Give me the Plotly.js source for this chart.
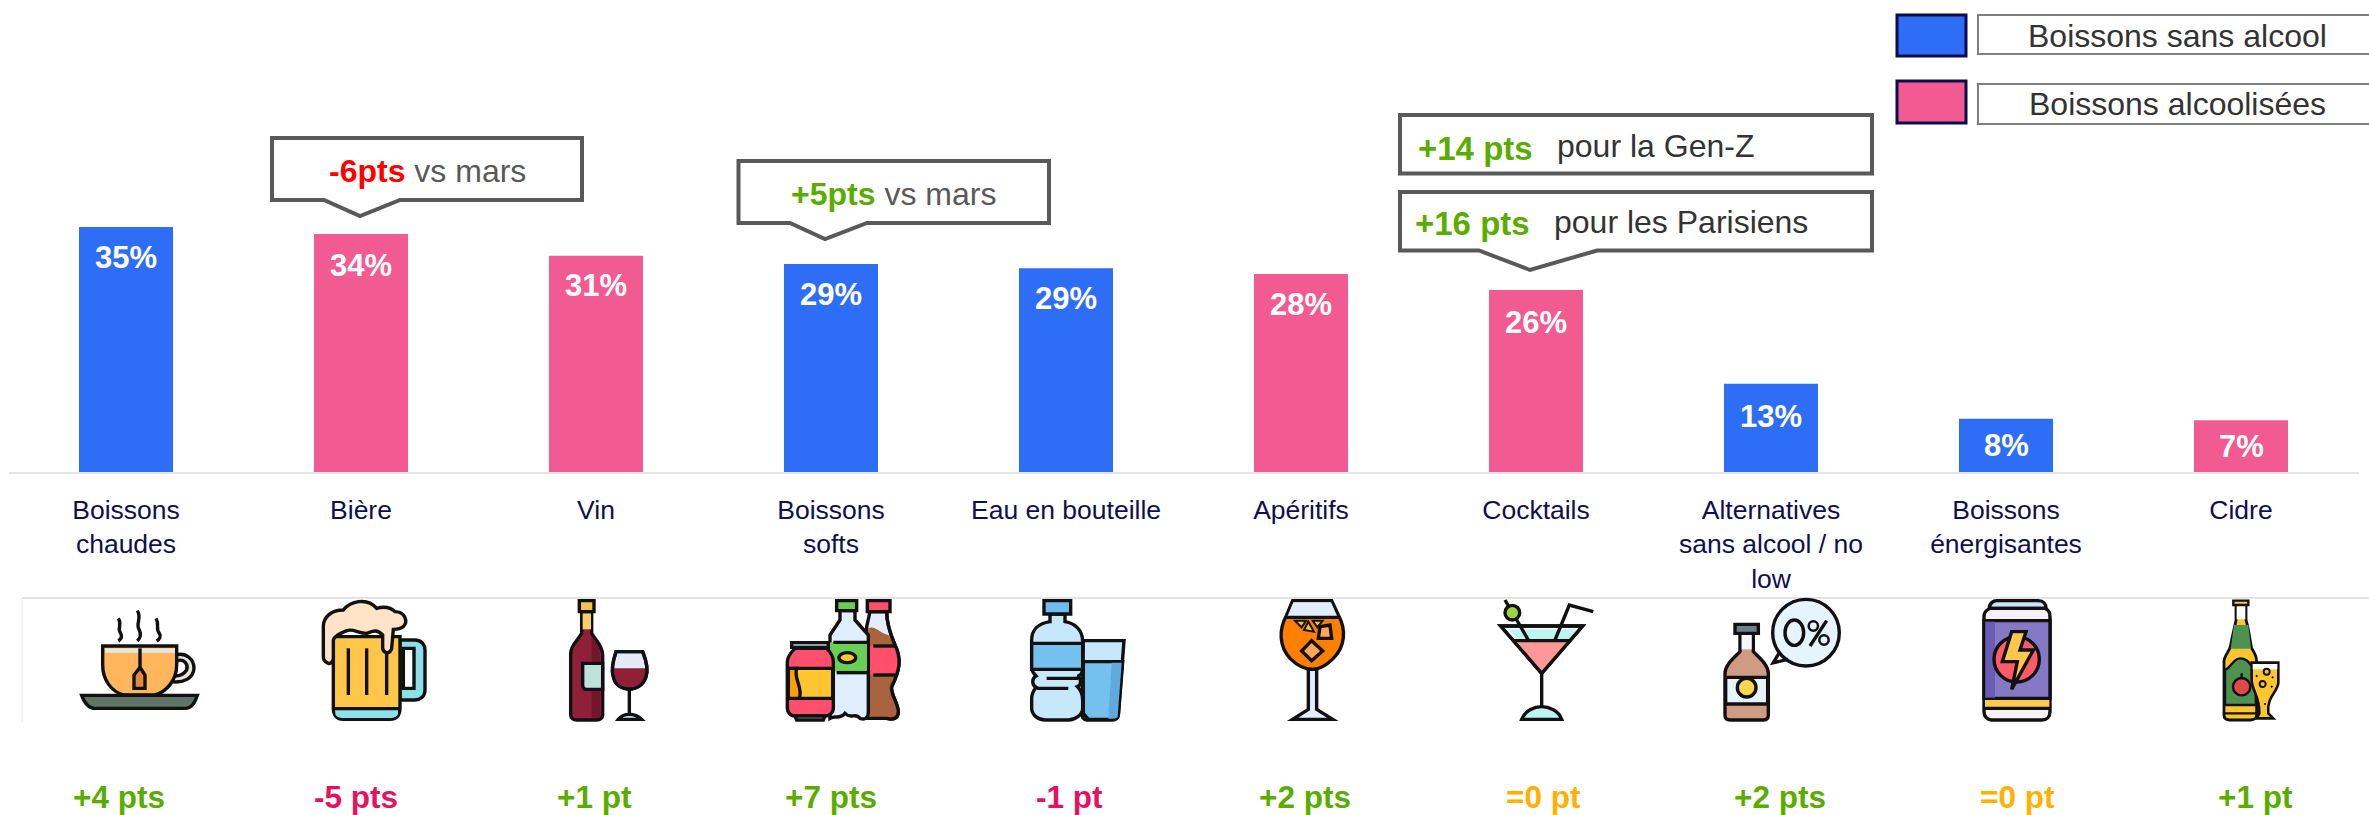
<!DOCTYPE html>
<html><head><meta charset="utf-8">
<script src="https://cdn.plot.ly/plotly-3.0.1.min.js"></script>
<style>html,body{margin:0;padding:0;background:#fff}#c{width:2369px;height:815px}</style></head>
<body><div id="c"></div>
<script>
const categories=["Boissons<br>chaudes","Bière","Vin","Boissons<br>softs","Eau en bouteille","Apéritifs","Cocktails","Alternatives<br>sans alcool / no<br>low","Boissons<br>énergisantes","Cidre"];
const values=[35,34,30.9,29.7,29.1,28.3,26,12.6,7.6,7.4];
const valueLabels=["35%","34%","31%","29%","29%","28%","26%","13%","8%","7%"];
const groups=["sans","alc","alc","sans","sans","alc","alc","sans","sans","alc"];
const deltas=["+4 pts","-5 pts","+1 pt","+7 pts","-1 pt","+2 pts","=0 pt","+2 pts","=0 pt","+1 pt"];
const trends=["up","down","up","up","down","up","flat","up","flat","up"];
const legendNames={sans:"Boissons sans alcool",alc:"Boissons alcoolisées"};

const W=2369,H=815,BASE=472,PXU=7;
const BLUE="#2e6ef7",PINK="#f25a92",NAVY="#0f0f50",GREEN="#5aad00",RED="#e5135f",AMBER="#ffb000",GREY="#595959",INK="#111111";
const trendColor={up:GREEN,down:RED,flat:AMBER};
const FONT="Liberation Sans, Arial, sans-serif";
const px=x=>x/W, py=y=>1-y/H;

const shapes=[],annotations=[];
function path(d,fill,lw,col){shapes.push({type:"path",xref:"paper",yref:"paper",path:d,fillcolor:fill||"rgba(0,0,0,0)",line:{color:col||INK,width:lw===undefined?3.4:lw},layer:"above"});}
// shape written in full-size page pixels
function pagePath(d,fill,lw,col){path(d.replace(/(-?[\d.]+),(-?[\d.]+)/g,(m,a,b)=>px(+a).toFixed(6)+","+py(+b).toFixed(6)),fill,lw,col);}
function note(x,y,text,size,color,anchor){annotations.push({xref:"paper",yref:"paper",x:px(x),y:py(y),text,showarrow:false,xanchor:anchor||"center",yanchor:"middle",font:{family:FONT,size,color},borderpad:0});}
// icon drawing helpers: coordinates are in a 3x local grid from an origin
function icon(ox,oy){
  const tx=x=>ox+x/3, ty=y=>oy+y/3;
  return {
    p(d,fill,lw,col){pagePath(d.replace(/(-?[\d.]+),(-?[\d.]+)/g,(m,a,b)=>tx(+a)+","+ty(+b)),fill,lw,col);},
    c(cx,cy,rx,ry,fill,lw){shapes.push({type:"circle",xref:"paper",yref:"paper",x0:px(tx(cx-rx)),x1:px(tx(cx+rx)),y0:py(ty(cy-ry)),y1:py(ty(cy+ry)),fillcolor:fill||"rgba(0,0,0,0)",line:{color:INK,width:lw===undefined?3.4:lw},layer:"above"});}
  };
}

/* panels */
pagePath("M22,598 L2369,598",null,2,"#e4e4e4");
pagePath("M22,598 L22,722",null,1,"#e8e8e8");

/* callouts */
pagePath("M272,138 L582,138 L582,200 L400,200 L360,216 L324,200 L272,200 Z","#fff",4,GREY);
pagePath("M738.5,161 L1049,161 L1049,223 L867,223 L825,239 L790,223 L738.5,223 Z","#fff",4,GREY);
pagePath("M1400,115 L1872,115 L1872,173.5 L1400,173.5 Z","#fff",4,GREY);
pagePath("M1400,192 L1872,192 L1872,250.5 L1597,250.5 L1530,270 L1479,250.5 L1400,250.5 Z","#fff",4,GREY);
const bold=(t,c)=>`<b><span style="color:${c}">${t}</span></b>`;
note(427,171,bold("-6pts","#ff0000")+` <span style="color:${GREY}">vs mars</span>`,32,GREY);
note(893,194,bold("+5pts",GREEN)+` <span style="color:${GREY}">vs mars</span>`,32,GREY);
note(1417,148,bold("+14 pts",GREEN),33,GREEN,"left");
note(1556,146,"pour la Gen-Z",32,"#333333","left");
note(1414,224,bold("+16 pts",GREEN),33,GREEN,"left");
note(1553,222,"pour les Parisiens",32,"#333333","left");

/* legend */
[[14,57,BLUE,"sans"],[80,124,PINK,"alc"]].forEach((r,i)=>{
  const y0=r[0],y1=r[1];
  pagePath(`M1897,${y0+1} L1966,${y0+1} L1966,${y1-1} L1897,${y1-1} Z`,r[2],3,"#0b0b50");
  const b0=i?84:15,b1=i?124:54;
  pagePath(`M1978,${b0} L2372,${b0} L2372,${b1} L1978,${b1} Z`,"#fff",2,"#7f7f7f");
  note(2177,(b0+b1)/2+(i?0:2),legendNames[r[3]],32,"#333333");
});

/* value labels: pixel offset under each bar top */
const labelDrop=[30,31,30,30,30,31,32,33,27,26];
valueLabels.forEach((t,i)=>{
  annotations.push({xref:"x",yref:"y",x:categories[i],y:values[i],text:"<b>"+t+"</b>",showarrow:false,yanchor:"middle",xanchor:"center",yshift:-labelDrop[i],font:{family:FONT,size:31,color:"#ffffff"}});
});
/* delta row */
const deltaX=[119,356,594,831,1069,1305,1543,1780,2018,2255];
deltas.forEach((t,i)=>note(deltaX[i],797,"<b>"+t+"</b>",31.5,trendColor[trends[i]]));

/* ICONS */
let k;
k=icon(60,590); // tea
k.p("M175,85 C188,105 170,115 182,130 C188,140 182,148 175,153",null);
k.p("M232,62 C247,85 225,100 238,120 C245,135 240,145 232,153",null);
k.p("M288,85 C300,105 285,115 298,130 C305,140 298,148 290,153",null);
k.p("M345,195 C380,185 402,210 402,235 C400,265 370,280 335,275 Z","#e8e6da");
k.p("M350,212 C375,205 385,225 380,240 C370,255 355,258 345,258 Z","#ffffff");
k.p("M128,168 L350,168 L350,225 C350,270 320,305 285,315 L190,315 C155,305 128,270 128,225 Z","#ffb65c");
k.p("M135,175 L345,175 L345,188 L135,188 Z","#e6e6da",0);
k.p("M240,175 L240,232",null);
k.p("M240,232 L255,255 L255,295 L222,295 L222,255 Z","#e58a3f");
k.p("M65,316 L412,316 C405,335 398,355 375,355 L105,355 C85,355 72,335 65,316 Z","#5f7568");
// beer
k.p("M1020,150 L1065,150 C1085,150 1095,165 1095,180 L1095,300 C1095,320 1080,330 1065,330 L1020,330 Z","#8be0ea");
k.p("M1030,175 L1062,175 L1062,295 L1030,295 Z","#ffffff");
k.p("M820,140 L1020,140 L1020,355 C1020,375 1010,388 990,388 L850,388 C830,388 820,375 820,355 Z","#ffc64a");
k.p("M826,360 L1014,360 L1014,372 C1010,382 1000,384 990,384 L850,384 C838,384 828,380 826,372 Z","#8be0ea",0);
k.p("M822,356 L1018,356",null);
k.p("M865,175 L865,315",null);k.p("M920,175 L920,315",null);k.p("M980,190 L980,315",null);
k.p("M805,220 C790,215 790,205 790,195 L790,110 C790,80 815,60 850,60 C870,35 920,20 950,55 C985,45 1000,60 1005,65 C1035,65 1045,95 1030,110 C1020,118 1010,118 1000,118 L995,175 C990,195 970,190 968,175 L968,135 C950,115 935,125 920,130 C895,130 880,115 860,122 C840,130 822,140 820,150 L820,205 C820,215 812,222 805,220 Z","#ffe4c8");

k=icon(540,590); // wine
k.p("M125,65 L155,65 L155,130 C165,150 188,165 188,195 L188,375 C188,385 180,390 170,390 L110,390 C100,390 92,385 92,375 L92,190 C92,165 115,150 125,130 Z","#8f2038");
k.p("M128,70 L153,70 L153,118 L128,118 Z","#f8cf6a",0);
k.p("M155,140 C175,160 180,180 180,200 L180,384 L155,384 Z","#75152c",0);
k.p("M118,32 L162,32 L162,65 L118,65 Z","#f5c14f");
k.p("M128,220 L188,220 L188,298 L140,298 C132,298 128,292 128,285 Z","#bfe2dc");
k.p("M228,185 L308,185 C320,215 325,240 318,260 C310,285 290,297 268,297 C245,297 225,285 220,260 C213,240 218,215 228,185 Z","#e3eaf6");
k.p("M220,235 L318,235 C322,270 300,295 268,295 C240,295 218,270 220,235 Z","#8f2038",0);
k.p("M228,185 L308,185 C320,215 325,240 318,260 C310,285 290,297 268,297 C245,297 225,285 220,260 C213,240 218,215 228,185 Z",null);
k.p("M268,297 L268,370",null);
k.p("M235,388 C250,368 285,368 305,388 Z","#e3eaf6");
// softs
k.p("M990,65 L1040,65 C1040,95 1050,130 1065,165 C1085,205 1080,240 1055,290 C1050,310 1075,340 1075,365 C1075,385 1060,390 1040,385 L980,385 L980,110 Z","#e3eefc");
k.p("M985,115 C1005,105 1020,130 1045,135 L1065,165 C1085,205 1080,240 1055,290 C1050,310 1075,340 1075,365 C1070,385 1050,388 1035,380 C1020,390 1000,390 985,385 Z","#a9633f",0);
k.p("M985,168 L1070,168 C1082,205 1075,235 1065,255 L985,255 Z","#ff4f6c",0);
k.p("M1000,168 L1068,168",null);k.p("M1000,255 L1065,255",null);
k.p("M990,65 L1040,65 C1040,95 1050,130 1065,165 C1085,205 1080,240 1055,290 C1050,310 1075,340 1075,365 C1075,385 1060,390 1040,385 L985,385",null);
k.p("M982,32 L1050,32 L1050,65 L982,65 Z","#ff4f6c");
k.p("M900,62 L945,62 L945,90 L985,135 L985,365 C985,385 975,390 960,385 C945,365 935,390 915,370 C900,390 885,375 870,385 L870,135 L900,90 Z","#e0effe");
k.p("M868,157 L980,157 L980,248 L890,248 L868,220 Z","#6ccf55",0);
k.p("M880,157 L982,157",null);k.p("M890,248 L982,248",null);
k.c(922,203,25,15,"#ffc531");
k.p("M890,32 L950,32 L950,62 L890,62 Z","#6ccf55");
k.p("M755,158 L865,158 L865,172 L755,172 Z","#b9cfe8");
k.p("M765,175 L860,175 C875,190 880,200 880,215 L880,355 C880,370 865,378 855,378 L765,378 C750,378 742,365 742,355 L742,215 C742,200 750,190 765,175 Z","#ff4f6c");
k.p("M745,235 L878,235 L878,325 L745,325 Z","#ffc531");
k.p("M745,235 L770,235 C760,270 790,290 778,325 L745,325 Z","#ff9f00");
k.p("M765,378 L855,378 L850,390 L770,390 Z","#b9cfe8");

k=icon(1000,590); // water
k.p("M250,152 L372,152 L355,375 C354,385 345,390 335,390 L260,390 C250,390 245,380 245,370 Z","#c7e7fb");
k.p("M250,215 L368,215 L355,375 C354,385 345,388 335,388 L265,388 L250,370 Z","#74c1f0");
k.p("M335,218 L365,218 L353,380 C350,385 345,386 325,386 Z","#5fa9de",0);
k.p("M150,72 L195,72 L195,95 C225,100 248,120 248,155 L248,235 C248,250 240,258 232,258 C245,265 245,285 232,290 C242,300 248,310 248,330 L248,355 C248,375 225,390 205,390 L135,390 C115,390 95,375 95,355 L95,325 C95,310 102,300 108,292 C95,285 95,265 108,258 C100,250 95,240 95,235 L95,150 C95,120 115,100 150,95 Z","#c7e7fb");
k.p("M95,160 L248,160 L248,238 L95,238 Z","#74c1f0");
k.p("M140,265 L235,265",null);k.p("M110,295 L205,295",null);
k.p("M132,32 L212,32 L212,72 L132,72 Z","#6fbdee");
// aperitif
k.p("M878,32 L995,32 L1015,75 C1040,120 1035,170 1000,205 C980,225 955,238 938,238 C915,238 890,225 870,205 C838,170 835,120 860,75 Z","#ff7f00");
k.p("M880,37 L993,37 L1012,80 L862,80 Z","#dfefff",0);
k.p("M860,82 L1014,82",null);
k.p("M885,92 L918,92 L905,112 Z","#ffc800",2);
k.p("M912,120 L925,95 L942,125 Z","#ffc800",2);
k.p("M938,92 L968,92 L952,112 Z","#ffc800",2);
k.p("M960,110 L990,105 L995,145 L955,145 Z","#ffa757");
k.p("M935,152 L968,183 L935,212 L905,183 Z","#ffa757");
k.p("M925,238 L950,238 L950,358 L998,388 L878,388 L925,358 Z","#dfefff");

k=icon(1460,590); // cocktail
k.p("M122,108 L368,108 L245,250 Z","#ffffff");
k.p("M172,155 L325,155 L245,250 Z","#ff9797",0);
k.p("M145,118 L352,118 L325,148 L172,148 Z","#bff5ef",0);
k.p("M160,152 L332,152",null);
k.p("M285,150 L328,45 L400,65",null);
k.p("M135,30 L205,150",null);
k.c(157,68,22,22,"#9ed23f");
k.p("M122,108 L368,108 L245,250 Z",null);
k.p("M245,250 L245,350",null);
k.p("M185,388 C195,360 225,350 245,350 C265,350 295,360 305,388 Z","#bff5ef");
// zero alcohol
k.c(1038,128,100,100,"#e6f4ff");
k.p("M958,188 L940,218 L985,208",null);
k.c(1003,128,28,38,null);
k.p("M1100,92 L1050,168",null);
k.c(1060,108,14,14,null,2.5);k.c(1092,150,14,14,null,2.5);
k.p("M840,130 L880,130 L880,185 C900,205 925,225 925,250 L925,375 C925,385 920,390 910,390 L810,390 C800,390 795,385 795,375 L795,250 C795,225 820,205 840,185 Z","#cf9b84");
k.p("M845,135 L875,135 L875,178 L845,178 Z","#f5f8fb",0);
k.p("M797,262 L923,262 L923,342 L797,342 Z","#e6f4ff");
k.c(860,293,28,28,"#ffd64d");
k.p("M825,103 L895,103 L895,130 L825,130 Z","#6e7f8c");

k=icon(1940,590); // energy
k.p("M148,55 C148,40 160,32 170,32 L295,32 C310,32 318,42 318,55 Z","#cfe3f8");
k.p("M150,55 L315,55 C325,60 330,65 330,80 L330,365 C330,380 320,390 305,390 L155,390 C142,390 132,380 132,365 L132,80 C132,65 140,60 150,55 Z","#f4f2f8");
k.p("M132,92 L330,92 L330,325 L132,325 Z","#8578c5");
k.p("M136,95 L165,95 L165,323 L136,323 Z","#6a5cb5",0);
k.p("M135,330 L328,330 L328,352 L135,352 Z","#ffcb4f",0);
k.p("M132,355 L330,355",null);
k.c(230,208,68,68,"#ff5a6a");
k.p("M215,125 L258,125 L240,180 L280,180 L215,298 L232,215 L187,215 Z","#ffc84a");
// cider
k.p("M888,45 L918,45 L918,90 C925,110 930,150 935,175 C945,190 950,200 950,215 L950,375 C950,385 940,390 930,390 L870,390 C858,390 852,385 852,375 L852,215 C852,195 870,185 872,165 C878,130 885,110 888,90 Z","#ffc531",2.8);
k.p("M890,48 L916,48 L916,88 L890,88 Z","#ffffff",0);
k.p("M882,105 L925,105 L933,176 L872,176 Z","#4f9150",0);
k.p("M855,240 C875,230 880,205 900,205 C925,205 930,225 945,240 L948,345 L855,345 Z","#4f9150",2.4);
k.c(905,290,26,26,"#e0484c",2.4);
k.p("M905,250 L905,268",null,2.4);
k.p("M854,370 L948,370",null,2.4);
k.p("M880,32 L925,32 L925,45 L880,45 Z","#ffc531",2.4);
k.p("M935,218 L1015,218 L1015,280 C1010,310 980,320 985,370 L1000,385 L950,385 L958,370 C960,320 935,300 935,270 Z","#ffc531",2.6);
k.p("M938,222 L1012,222 L1012,238 L938,238 Z","#ffffff",0);
k.c(980,245,9,9,"#ffc531",2);k.c(968,282,9,9,null,2);
k.c(950,258,2,2,INK,1);k.c(998,262,2,2,INK,1);k.c(995,290,2,2,INK,1);k.c(975,342,2,2,INK,1);

const idx=g=>groups.map((v,i)=>v===g?i:-1).filter(i=>i>=0);
const mk=(g,color)=>({type:"bar",name:legendNames[g],x:idx(g).map(i=>categories[i]),y:idx(g).map(i=>values[i]),width:0.4,marker:{color,line:{width:0}},showlegend:false,hoverinfo:"x+y"});

Plotly.newPlot("c",[mk("sans",BLUE),mk("alc",PINK)],{
  width:W,height:H,margin:{l:0,r:0,t:0,b:0},paper_bgcolor:"#fff",plot_bgcolor:"#fff",
  barmode:"overlay",showlegend:false,
  font:{family:FONT},
  xaxis:{type:"category",categoryorder:"array",categoryarray:categories,range:[-0.5,9.5],domain:[8.5/W,2358.5/W],
    showline:true,linecolor:"#e6e6e6",linewidth:2,showgrid:false,zeroline:false,
    ticks:"outside",ticklen:13,tickcolor:"rgba(0,0,0,0)",tickangle:0,automargin:false,
    tickfont:{family:FONT,size:26.5,color:NAVY}},
  yaxis:{range:[0,BASE/PXU],domain:[1-BASE/H,1],visible:false,showgrid:false,zeroline:false,fixedrange:true},
  shapes,annotations
},{displayModeBar:false,staticPlot:true});
</script></body></html>
